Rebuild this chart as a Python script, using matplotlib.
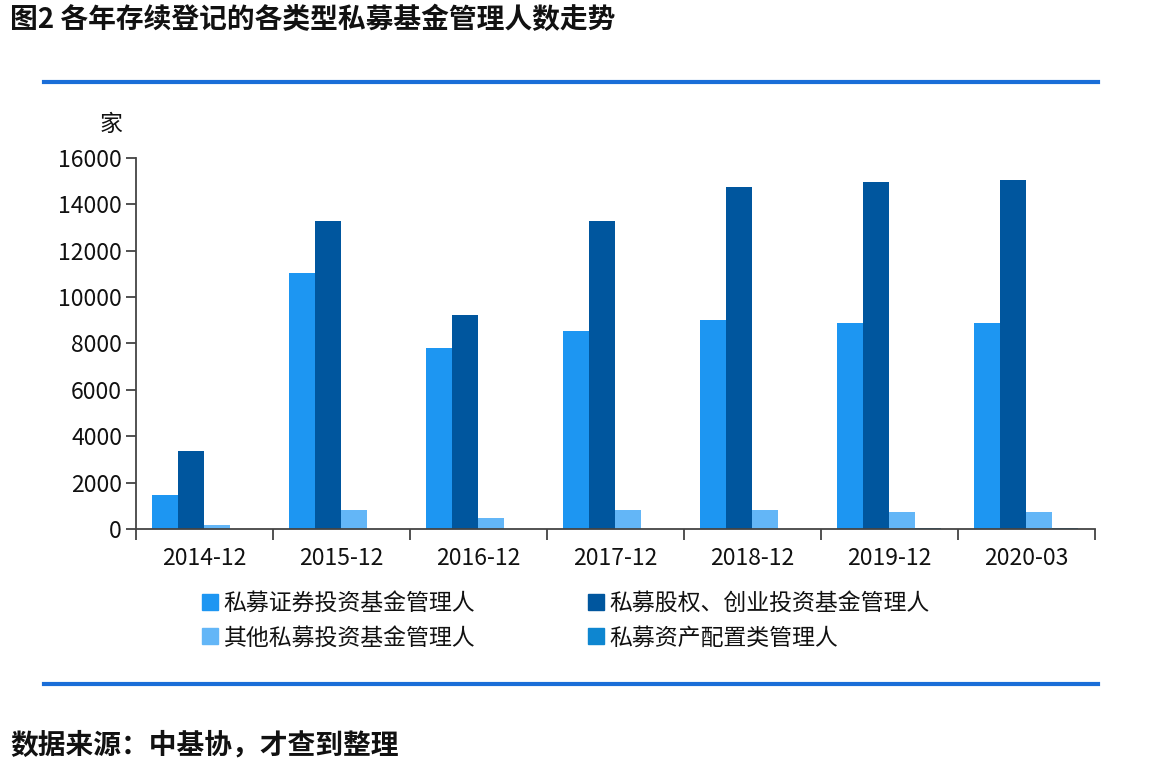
import numpy as np
import matplotlib.pyplot as plt
from matplotlib.patches import Patch
from matplotlib.lines import Line2D

plt.rcParams['font.family'] = ['Noto Sans CJK SC', 'DejaVu Sans']

# data
periods = ['2014-12', '2015-12', '2016-12', '2017-12', '2018-12', '2019-12', '2020-03']
securities = [1470, 11040, 7800, 8540, 9010, 8880, 8880]
equity_vc = [3380, 13280, 9230, 13280, 14750, 14960, 15050]
other = [170, 820, 490, 820, 820, 750, 750]
asset_alloc = [0, 0, 0, 0, 0, 60, 60]

series = [securities, equity_vc, other, asset_alloc]
names = ['私募证券投资基金管理人', '私募股权、创业投资基金管理人',
         '其他私募投资基金管理人', '私募资产配置类管理人']
colors = ['#1d96f2', '#00569e', '#63b6f7', '#0e86d0']

fig = plt.figure(figsize=(11.68, 7.70), dpi=100)
ax = fig.add_axes([0.1164, 0.313, 0.821, 0.482])

x = np.arange(len(periods))
w = 0.19
for i, (vals, c) in enumerate(zip(series, colors)):
    ax.bar(x - 1.5 * w + i * w, vals, width=w, color=c, label=names[i])

ax.set_xlim(-0.5, len(periods) - 0.5)
ax.set_ylim(0, 16000)
ax.set_yticks(np.arange(0, 16001, 2000))
ax.tick_params(axis='y', labelsize=16.5, length=7, width=1.2, color='#333333', pad=3,
               labelcolor='#111111')

# category labels centred, ticks on the boundaries
ax.set_xticks(x)
ax.set_xticklabels(periods, fontsize=16.5, color='#111111')
ax.tick_params(axis='x', which='major', length=0, pad=13)
ax.set_xticks(np.arange(-0.5, len(periods)), minor=True)
ax.tick_params(axis='x', which='minor', length=8, width=1.2, color='#333333')

for s in ['top', 'right']:
    ax.spines[s].set_visible(False)
for s in ['left', 'bottom']:
    ax.spines[s].set_color('#444444')
    ax.spines[s].set_linewidth(1.3)

fig.text(122 / 1168, 1 - 124 / 770, '家', fontsize=16.5, ha='right', va='center',
         color='#111111')

# legend fills by column, so reorder to get rows of (securities, equity), (other, asset)
order = [0, 2, 1, 3]
handles = [Patch(color=colors[k]) for k in order]
fig.legend(handles, [names[k] for k in order], ncol=2, loc='upper left',
           bbox_to_anchor=(202 / 1168, 1 - 592 / 770), frameon=False,
           fontsize=16.5, handlelength=0.7, handleheight=0.7,
           handletextpad=0.25, columnspacing=4.9, labelspacing=0.5,
           borderpad=0, borderaxespad=0, labelcolor='#111111')

# blue rules above and below the chart
for yy in [82, 684]:
    fig.add_artist(Line2D([44 / 1168, 1098 / 1168], [1 - yy / 770, 1 - yy / 770],
                          color='#1a6ed8', linewidth=3))

fig.text(10 / 1168, 1 - 20 / 770, '图2 各年存续登记的各类型私募基金管理人数走势',
         fontsize=20, fontweight='bold', ha='left', va='center', color='#111111')
fig.text(10 / 1168, 1 - 745 / 770, '数据来源：中基协，才查到整理',
         fontsize=20, fontweight='bold', ha='left', va='center', color='#111111')

fig.savefig('out.png', dpi=100)
